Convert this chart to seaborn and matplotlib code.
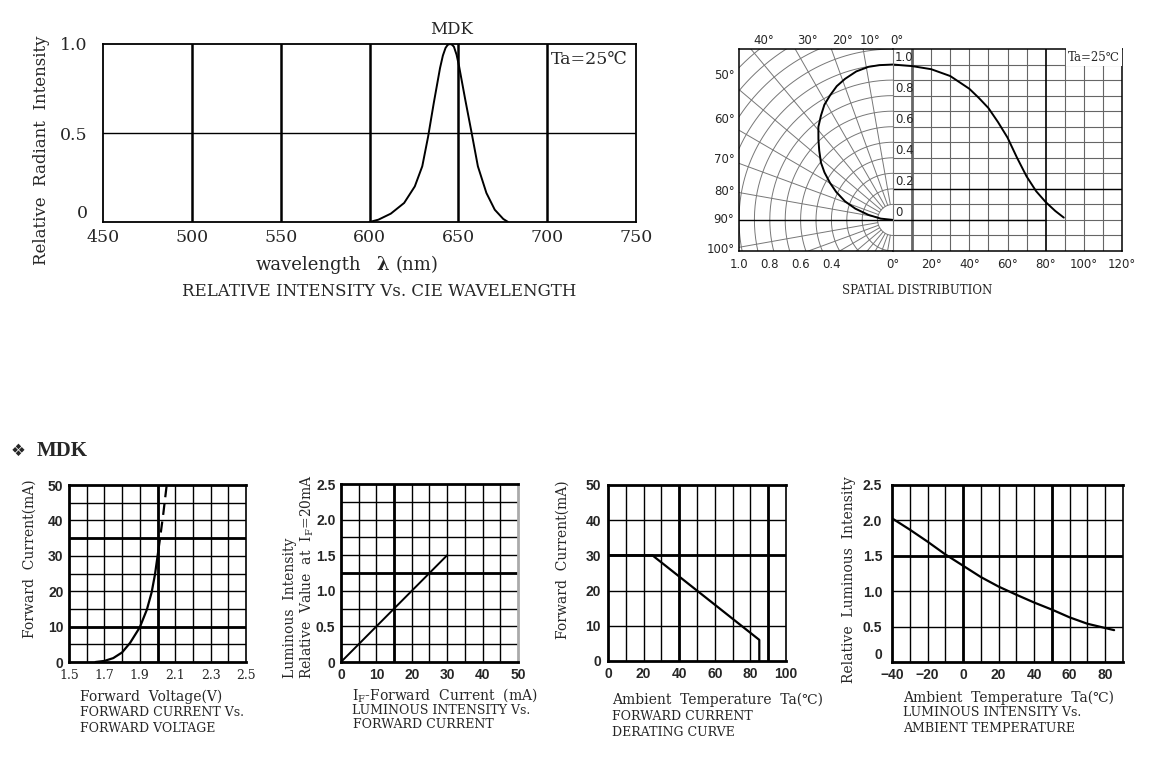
import numpy as np
import matplotlib
matplotlib.use('Agg')
import matplotlib.pyplot as plt
import seaborn as sns

sns.set_style('white')
plt.rcParams['font.family'] = ['DejaVu Serif', 'DejaVu Sans']
plt.rcParams['mathtext.fontset'] = 'dejavuserif'

W, H = 1168, 760

# --- data ---
# relative intensity vs wavelength
wl_nm = [600, 605, 612, 619.5, 625.5, 629.7, 633, 636.2, 639.7, 641.3, 642.8, 644,
         645.2, 646.3, 647.5, 649, 650.4, 653.9, 657.5, 661, 665.8, 670.5, 675.3, 678]
rel_radiant = [0, 0.013, 0.047, 0.107, 0.2, 0.313, 0.48, 0.67, 0.865, 0.935, 0.978, 0.995,
               1.0, 0.997, 0.985, 0.94, 0.876, 0.687, 0.5, 0.313, 0.163, 0.069, 0.017, 0]

# spatial distribution, polar half (angle from axis, radius)
polar_deg = [0, 5, 9.2, 14, 18.9, 23, 27, 31, 34.9, 39, 43, 47, 51.8, 55.5,
             59.8, 64, 69, 73.5, 78.5, 84, 90]
polar_r = [1.0, 1.0, 0.998, 0.985, 0.96, 0.935, 0.9, 0.865, 0.818, 0.77, 0.71,
           0.655, 0.595, 0.54, 0.473, 0.41, 0.334, 0.255, 0.163, 0.08, 0]

# spatial distribution, cartesian half
ang_deg = [0, 10, 20, 30, 40, 45, 50, 55, 60, 65, 70, 75, 80, 85, 89.5]
ang_rel = [1.0, 0.99, 0.97, 0.926, 0.844, 0.785, 0.72, 0.63, 0.53, 0.40, 0.28,
           0.185, 0.115, 0.058, 0.015]

# forward current vs forward voltage
vf_solid = [1.65, 1.70, 1.75, 1.80, 1.845, 1.90, 1.94, 1.967, 1.986, 2.0, 2.005]
if_solid = [0, 0.3, 1.1, 2.7, 5.4, 9.8, 14.8, 19.7, 24.8, 29.8, 31.6]
vf_dash = [2.005, 2.014, 2.033, 2.052]
if_dash = [31.6, 34.8, 42, 50]

# luminous intensity vs forward current
if_ma = [0, 30]
iv_rel = [0, 1.5]

# derating curve
ta_der = [0, 25, 85, 85]
if_der = [30, 30, 6, 0]

# luminous intensity vs ambient temperature
ta_iv = [-40, -30, -20, -10, 0, 10, 20, 30, 40, 50, 60, 70, 80, 85]
iv_ta = [2.03, 1.87, 1.70, 1.52, 1.36, 1.20, 1.065, 0.95, 0.84, 0.74, 0.63,
         0.54, 0.48, 0.45]

fig = plt.figure(figsize=(W / 100, H / 100), dpi=100)


def add_ax(l, t, r, b):
    return fig.add_axes([l / W, 1 - b / H, (r - l) / W, (b - t) / H])


def ftext(x, y, s, **kw):
    kw.setdefault('ha', 'center')
    kw.setdefault('va', 'center')
    fig.text(x / W, 1 - y / H, s, **kw)


def grid_lines(ax, xs, ys, lw=1.0, color='black'):
    for v in xs:
        ax.axvline(v, color=color, lw=lw, zorder=1)
    for v in ys:
        ax.axhline(v, color=color, lw=lw, zorder=1)


def frame(ax, lw=1.5, right_color='black', right_lw=1.0):
    for s in ['top', 'left', 'bottom']:
        ax.spines[s].set_linewidth(lw)
        ax.spines[s].set_color('black')
    ax.spines['right'].set_color(right_color)
    ax.spines['right'].set_linewidth(right_lw)
    ax.tick_params(length=0)


def curve(ax, x, y, **kw):
    sns.lineplot(x=x, y=y, ax=ax, color='black', estimator=None, sort=False, **kw)


SANS = {'fontfamily': 'Liberation Sans', 'fontweight': 'bold'}

# ---------------- spectrum ----------------
ax = add_ax(103, 44, 636, 222)
ax.set_xlim(450, 750)
ax.set_ylim(0, 1.0)
grid_lines(ax, [500, 550, 600, 650, 700], [], lw=1.8)
grid_lines(ax, [], [0.5], lw=1.0)
curve(ax, wl_nm, rel_radiant, lw=1.4)
frame(ax, lw=1.3, right_lw=1.3)
ax.set_xticks(range(450, 751, 50), [str(v) for v in range(450, 751, 50)], fontsize=12.5)
ax.set_yticks([0, 0.5, 1.0], ['0', '0.5', '1.0'], fontsize=12.5)
ax.get_yticklabels()[0].set_va('bottom')
ax.tick_params(axis='x', pad=5)
ax.tick_params(axis='y', pad=11)
ax.set_xlabel('')
ax.set_ylabel('')
ftext(42, 150, 'Relative  Radiant  Intensity', rotation=90, fontsize=12)
ftext(452, 30, 'MDK', fontsize=12)
ftext(551, 60, 'Ta=25℃', ha='left', fontsize=12.5)
ftext(361, 265, 'wavelength', ha='right', fontsize=13)
ftext(376, 265, 'λ', ha='left', fontsize=13, fontweight='bold')
ftext(396, 265, '(nm)', ha='left', fontsize=13)
ftext(379, 292, 'RELATIVE INTENSITY Vs. CIE WAVELENGTH', fontsize=12)

# ---------------- spatial distribution ----------------
axp = add_ax(739, 49, 893, 251)
axp.set_xlim(-1.0, 0)
axp.set_ylim(-0.2, 1.1)
t = np.linspace(0, np.pi, 200)
for r in np.arange(1, 17) / 10:
    axp.plot(-r * np.sin(t), r * np.cos(t), color='#777777', lw=0.7, zorder=1)
for a in np.deg2rad(np.arange(0, 181, 10)):
    axp.plot([-0.1 * np.sin(a), -2 * np.sin(a)], [0.1 * np.cos(a), 2 * np.cos(a)],
             color='#777777', lw=0.7, zorder=1)
axp.axhline(0, color='black', lw=1.0, zorder=1)
pr = np.array(polar_r)
pa = np.deg2rad(polar_deg)
curve(axp, list(-pr * np.sin(pa)), list(pr * np.cos(pa)), lw=1.4)
frame(axp, lw=1.1)
axp.spines['right'].set_visible(False)
axp.set_xticks([-1.0, -0.8, -0.6, -0.4], ['1.0', '0.8', '0.6', '0.4'], fontsize=8.5,
               fontfamily='DejaVu Sans')
axp.set_yticks([])
axp.tick_params(axis='x', pad=5)
axp.set_xlabel('')
axp.set_ylabel('')
top_lab_x = [-0.838, -0.558, -0.325, -0.149, 0.026]
for xv, s in zip(top_lab_x, ['40°', '30°', '20°', '10°', '0°']):
    axp.text(xv, 1.115, s, ha='center', va='bottom', fontsize=8.5,
             fontfamily='DejaVu Sans', clip_on=False)
left_lab_y = [0.929, 0.649, 0.390, 0.182, 0, -0.188]
for yv, s in zip(left_lab_y, ['50°', '60°', '70°', '80°', '90°', '100°']):
    axp.text(-1.03, yv, s, ha='right', va='center', fontsize=8.5,
             fontfamily='DejaVu Sans', clip_on=False)

axr = add_ax(893, 49, 1122, 251)
axr.set_xlim(0, 120)
axr.set_ylim(-0.2, 1.1)
grid_lines(axr, range(20, 80, 10), [], lw=0.8, color='#666666')
grid_lines(axr, range(90, 120, 10), [], lw=0.8, color='#666666')
grid_lines(axr, [], np.arange(-1, 11) / 10, lw=0.8, color='#666666')
axr.axvline(10, color='#666666', lw=2.0, zorder=1)
axr.axvline(80, color='black', lw=1.2, zorder=1)
axr.axhline(0.2, color='black', lw=1.0, zorder=1)
axr.axhline(0, xmax=80 / 120, color='black', lw=1.0, zorder=1)
curve(axr, ang_deg, ang_rel, lw=1.4)
frame(axr, lw=1.1, right_lw=1.1)
axr.spines['left'].set_color('#777777')
axr.spines['left'].set_linewidth(0.8)
axr.set_xticks(range(0, 121, 20), [f'{v}°' for v in range(0, 121, 20)], fontsize=8.5,
               fontfamily='DejaVu Sans')
axr.set_yticks([])
axr.tick_params(axis='x', pad=5)
axr.set_xlabel('')
axr.set_ylabel('')
for v, s in zip([1.0, 0.8, 0.6, 0.4, 0.2, 0], ['1.0', '0.8', '0.6', '0.4', '0.2', '0']):
    axr.text(1.0, v + 0.004, s, ha='left', va='bottom',
             fontsize=8.5, fontfamily='DejaVu Sans')
axr.text(119, 1.09, 'Ta=25℃', ha='right', va='top', fontsize=8.5,
         bbox=dict(facecolor='white', edgecolor='none', pad=1.5))
ftext(917, 291, 'SPATIAL DISTRIBUTION', fontsize=8.5)

# ---------------- header ----------------
ftext(18, 451, '❖', fontsize=12, fontfamily='DejaVu Sans')
ftext(37, 451, 'MDK', ha='left', fontsize=15, fontweight='bold',
      fontfamily='Liberation Serif')

# ---------------- forward current vs forward voltage ----------------
a1 = add_ax(69, 485, 246, 662)
a1.set_xlim(1.5, 2.5)
a1.set_ylim(0, 50)
grid_lines(a1, np.arange(16, 25) / 10, range(5, 50, 5), lw=1.0)
grid_lines(a1, [2.0], [10, 35], lw=2.0)
curve(a1, vf_solid, if_solid, lw=1.6)
curve(a1, vf_dash, if_dash, lw=1.6, linestyle=(0, (5, 3)))
frame(a1, lw=2.0, right_lw=1.2)
a1.set_xticks([1.5, 1.7, 1.9, 2.1, 2.3, 2.5], ['1.5', '1.7', '1.9', '2.1', '2.3', '2.5'],
              fontsize=9)
a1.set_yticks(range(0, 51, 10), [str(v) for v in range(0, 51, 10)], fontsize=10, **SANS)
a1.tick_params(axis='x', pad=5)
a1.tick_params(axis='y', pad=4)
a1.set_xlabel('')
a1.set_ylabel('')
ftext(30, 559, 'Forward  Current(mA)', rotation=90, fontsize=10)
ftext(80, 697, 'Forward  Voltage(V)', ha='left', fontsize=10)
ftext(80, 713, 'FORWARD CURRENT Vs.', ha='left', fontsize=9)
ftext(80, 728, 'FORWARD VOLTAGE', ha='left', fontsize=9)

# ---------------- luminous intensity vs forward current ----------------
a2 = add_ax(341, 484, 518, 662)
a2.set_xlim(0, 50)
a2.set_ylim(0, 2.5)
grid_lines(a2, range(5, 50, 5), np.arange(1, 10) * 0.25, lw=1.0)
grid_lines(a2, [15], [1.25], lw=2.0)
curve(a2, if_ma, iv_rel, lw=1.4)
frame(a2, lw=2.0, right_color='#aaaaaa', right_lw=2.0)
a2.set_xticks(range(0, 51, 10), [str(v) for v in range(0, 51, 10)], fontsize=10, **SANS)
a2.set_yticks([0, 0.5, 1.0, 1.5, 2.0, 2.5], ['0', '0.5', '1.0', '1.5', '2.0', '2.5'],
              fontsize=10, **SANS)
a2.tick_params(axis='x', pad=4)
a2.tick_params(axis='y', pad=4)
a2.set_xlabel('')
a2.set_ylabel('')
ftext(290, 608, 'Luminous  Intensity', rotation=90, fontsize=10)
ftext(307, 577, 'Relative  Value  at  I$_{\\mathrm{F}}$=20mA', rotation=90, fontsize=10)
ftext(352, 695, 'I$_{\\mathrm{F}}$-Forward  Current  (mA)', ha='left', fontsize=10)
ftext(352, 710, 'LUMINOUS INTENSITY Vs.', ha='left', fontsize=9)
ftext(353, 725, 'FORWARD CURRENT', ha='left', fontsize=9)

# ---------------- derating curve ----------------
a3 = add_ax(608, 485, 786, 661)
a3.set_xlim(0, 100)
a3.set_ylim(0, 50)
grid_lines(a3, range(10, 100, 10), range(10, 50, 10), lw=1.0)
grid_lines(a3, [40, 90], [30], lw=2.0)
curve(a3, ta_der, if_der, lw=1.6)
frame(a3, lw=2.0, right_lw=1.2)
a3.set_xticks(range(0, 101, 20), [str(v) for v in range(0, 101, 20)], fontsize=10, **SANS)
a3.set_yticks(range(0, 51, 10), [str(v) for v in range(0, 51, 10)], fontsize=10, **SANS)
a3.tick_params(axis='x', pad=4)
a3.tick_params(axis='y', pad=5)
a3.set_xlabel('')
a3.set_ylabel('')
ftext(563, 560, 'Forward  Current(mA)', rotation=90, fontsize=10)
ftext(612, 700, 'Ambient  Temperature  Ta(℃)', ha='left', fontsize=10)
ftext(612, 717, 'FORWARD CURRENT', ha='left', fontsize=9)
ftext(612, 732, 'DERATING CURVE', ha='left', fontsize=9)

# ---------------- luminous intensity vs ambient temperature ----------------
a4 = add_ax(892, 485, 1123, 662)
a4.set_xlim(-40, 90)
a4.set_ylim(0, 2.5)
grid_lines(a4, range(-30, 90, 10), [0.5, 1.0, 1.5, 2.0], lw=1.0)
grid_lines(a4, [0, 50], [1.5], lw=2.0)
curve(a4, ta_iv, iv_ta, lw=1.6)
frame(a4, lw=2.0, right_lw=1.2)
a4.set_xticks(range(-40, 81, 20), ['\u221240', '\u221220', '0', '20', '40', '60', '80'],
              fontsize=10, **SANS)
a4.set_yticks([0, 0.5, 1.0, 1.5, 2.0, 2.5], ['0', '0.5', '1.0', '1.5', '2.0', '2.5'],
              fontsize=10, **SANS)
a4.get_yticklabels()[0].set_va('bottom')
a4.tick_params(axis='x', pad=4)
a4.tick_params(axis='y', pad=7)
a4.set_xlabel('')
a4.set_ylabel('')
ftext(849, 580, 'Relative  Luminous  Intensity', rotation=90, fontsize=10)
ftext(903, 698, 'Ambient  Temperature  Ta(℃)', ha='left', fontsize=10)
ftext(903, 713, 'LUMINOUS INTENSITY Vs.', ha='left', fontsize=9)
ftext(903, 728, 'AMBIENT TEMPERATURE', ha='left', fontsize=9)

fig.savefig('out.png', dpi=100, facecolor='white')
